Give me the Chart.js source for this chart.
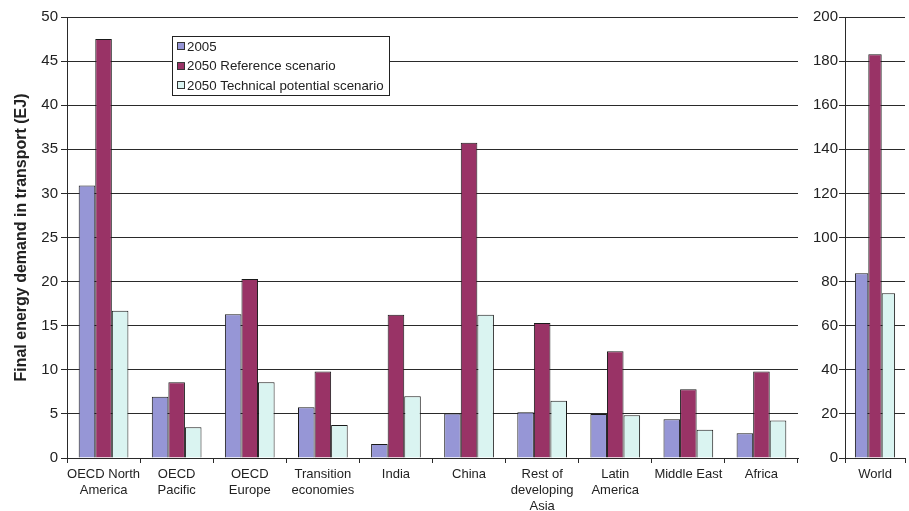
<!DOCTYPE html>
<html>
<head>
<meta charset="utf-8">
<script src="https://cdn.jsdelivr.net/npm/chart.js@4.4.1/dist/chart.umd.min.js"></script>
<style>
  html, body { margin: 0; padding: 0; background: #fff; }
  #wrap { position: relative; width: 909px; height: 511px; }
  #regions { position: absolute; left: 0; top: 0; }
  #world { position: absolute; left: 812px; top: 0; }
</style>
</head>
<body>
<div id="wrap">
  <canvas id="regions" width="812" height="511"></canvas>
  <canvas id="world" width="97" height="511"></canvas>
</div>
<script>
var regions = [
  ['OECD North', 'America'], ['OECD', 'Pacific'], ['OECD', 'Europe'],
  ['Transition', 'economies'], 'India', 'China', ['Rest of', 'developing', 'Asia'],
  ['Latin', 'America'], 'Middle East', 'Africa'
];
var seriesNames = ['2005', '2050 Reference scenario', '2050 Technical potential scenario'];

// EJ per region
var demand2005 = [30.9, 6.95, 16.3, 5.75, 1.6, 5.05, 5.2, 5.0, 4.4, 2.8];
var demand2050Ref = [47.5, 8.6, 20.3, 9.8, 16.25, 35.75, 15.3, 12.1, 7.8, 9.8];
var demand2050Tech = [16.7, 3.5, 8.6, 3.75, 7.0, 16.25, 6.5, 4.85, 3.2, 4.25];

var worldLabels = ['World'];
var world2005 = [83.8];
var world2050Ref = [183.1];
var world2050Tech = [74.7];

var regionTicks = [0, 5, 10, 15, 20, 25, 30, 35, 40, 45, 50];
var worldTicks = [0, 20, 40, 60, 80, 100, 120, 140, 160, 180, 200];

var colors = ['#9696d6', '#993366', '#daf4f1'];
var textColor = '#222';
var lineColor = '#2a2a2a';
var fontFamily = '"Liberation Sans", Arial, sans-serif';

function makeSets(a, b, c) {
  return [a, b, c].map(function(values, i) {
    return {
      label: seriesNames[i],
      data: values,
      backgroundColor: colors[i],
      borderColor: '#1a1a1a',
      borderWidth: 1,
      borderSkipped: 'start'
    };
  });
}

// legend box sitting inside the plot area
var boxLegend = {
  id: 'boxLegend',
  afterDraw: function(chart) {
    var ctx = chart.ctx;
    var x = 172, y = 36, w = 217, h = 59;
    ctx.save();
    ctx.fillStyle = '#fff';
    ctx.fillRect(x, y, w, h);
    ctx.strokeStyle = '#222';
    ctx.lineWidth = 1;
    ctx.strokeRect(x + 0.5, y + 0.5, w, h);
    ctx.font = '13.3px ' + fontFamily;
    ctx.textBaseline = 'middle';
    chart.data.datasets.forEach(function(ds, i) {
      var cy = 46 + i * 19.5;
      ctx.fillStyle = ds.backgroundColor;
      ctx.fillRect(177, Math.round(cy) - 4, 7, 7);
      ctx.strokeStyle = '#333';
      ctx.strokeRect(177.5, Math.round(cy) - 3.5, 7, 7);
      ctx.fillStyle = textColor;
      ctx.fillText(ds.label, 187, cy + 1);
    });
    ctx.restore();
  }
};

function axes(ticks, yWidth, tickPad, title) {
  return {
    x: {
      afterFit: function(scale) { scale.height = 53; },
      grid: { offset: true, drawOnChartArea: false, drawTicks: true, tickLength: 5, color: lineColor },
      border: { color: lineColor, width: 1 },
      ticks: {
        color: textColor, padding: 3, maxRotation: 0, autoSkip: false,
        font: { family: fontFamily, size: 13, lineHeight: 1.25 }
      }
    },
    y: {
      min: ticks[0],
      max: ticks[ticks.length - 1],
      afterFit: function(scale) { scale.width = yWidth; },
      afterBuildTicks: function(scale) {
        scale.ticks = ticks.map(function(v) { return { value: v }; });
      },
      grid: { color: lineColor, lineWidth: 1, drawTicks: true, tickLength: 6 },
      border: { color: lineColor, width: 1 },
      ticks: {
        color: textColor, padding: tickPad,
        font: { family: fontFamily, size: 15 }
      },
      title: title
    }
  };
}

new Chart(document.getElementById('regions').getContext('2d'), {
  type: 'bar',
  data: {
    labels: regions,
    datasets: makeSets(demand2005, demand2050Ref, demand2050Tech)
  },
  options: {
    responsive: false,
    animation: false,
    categoryPercentage: 0.68,
    barPercentage: 1.0,
    layout: { padding: { top: 17, right: 14, left: 0, bottom: 0 } },
    plugins: { legend: { display: false }, tooltip: { enabled: false } },
    scales: axes(regionTicks, 67, 3, {
      display: true,
      text: 'Final energy demand in transport (EJ)',
      color: textColor,
      padding: { top: 12, bottom: 0 },
      font: { family: fontFamily, size: 16, weight: 'bold' }
    })
  },
  plugins: [boxLegend]
});

new Chart(document.getElementById('world').getContext('2d'), {
  type: 'bar',
  data: {
    labels: worldLabels,
    datasets: makeSets(world2005, world2050Ref, world2050Tech)
  },
  options: {
    responsive: false,
    animation: false,
    categoryPercentage: 0.67,
    barPercentage: 1.0,
    layout: { padding: { top: 17, right: 4, left: 0, bottom: 0 } },
    plugins: { legend: { display: false }, tooltip: { enabled: false } },
    scales: axes(worldTicks, 33, 1, { display: false })
  }
});
</script>
</body>
</html>
